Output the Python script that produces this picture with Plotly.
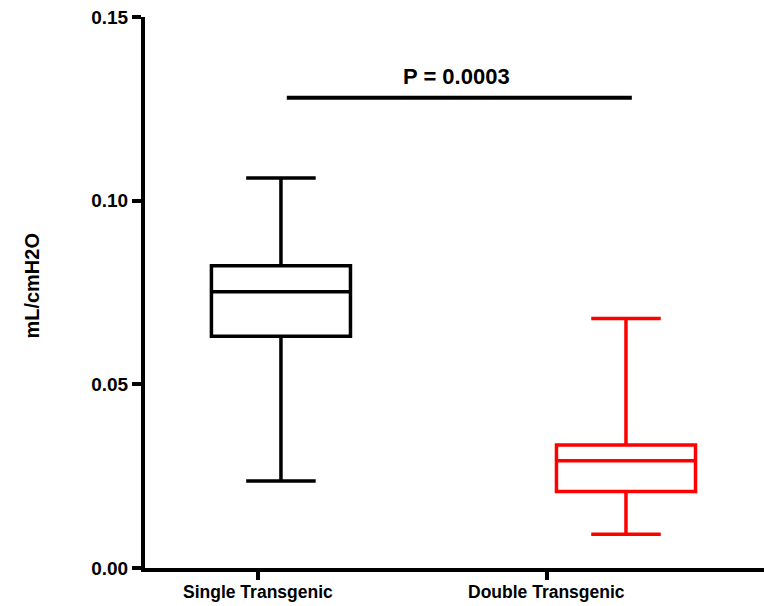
import plotly.graph_objects as go

# ---- data ----
groups = ["Single Transgenic", "Double Transgenic"]
colors = ["#000000", "#FF0000"]
box_pos = [1, 2]
lower_fence = [0.0237, 0.0092]
q1 = [0.0631, 0.0208]
median = [0.0752, 0.0292]
q3 = [0.0823, 0.0335]
upper_fence = [0.1062, 0.0679]
label_pos = [0.934, 1.771]
y_ticks = [0.00, 0.05, 0.10, 0.15]
y_tick_text = ["0.00", "0.05", "0.10", "0.15"]
p_text = "P = 0.0003"
p_bar_y = 0.128
p_bar_x = [1.017, 2.017]

FONT = "Liberation Sans, Arial, sans-serif"

fig = go.Figure()
for i, g in enumerate(groups):
    fig.add_trace(go.Box(
        x=[box_pos[i]], q1=[q1[i]], median=[median[i]], q3=[q3[i]],
        lowerfence=[lower_fence[i]], upperfence=[upper_fence[i]],
        name=g, width=0.403, whiskerwidth=0.5, boxpoints=False,
        line=dict(color=colors[i], width=3.5),
        fillcolor="rgba(0,0,0,0)", hoverinfo="skip", showlegend=False,
    ))

fig.add_trace(go.Scatter(
    x=p_bar_x, y=[p_bar_y, p_bar_y], mode="lines",
    line=dict(color="black", width=4), showlegend=False, hoverinfo="skip",
))
fig.add_annotation(
    x=sum(p_bar_x) / 2 - 0.008, y=p_bar_y + 0.0058, text="<b>" + p_text + "</b>",
    showarrow=False, xanchor="center", yanchor="middle",
    font=dict(family=FONT, size=22, color="black"),
)
fig.add_annotation(
    x=-0.183, y=0.512, xref="paper", yref="paper", text="<b>mL/cmH2O</b>",
    textangle=-90, showarrow=False, xanchor="center", yanchor="middle",
    font=dict(family=FONT, size=20, color="black"),
)
# category labels
for i, g in enumerate(groups):
    fig.add_annotation(
        x=label_pos[i], y=-0.0436, xref="x", yref="paper", text="<b>" + g + "</b>",
        showarrow=False, xanchor="center", yanchor="middle",
        font=dict(family=FONT, size=17.5, color="black"),
    )

fig.update_layout(
    width=764, height=606,
    margin=dict(l=145, r=0, t=17, b=38),
    paper_bgcolor="white", plot_bgcolor="white",
    font=dict(family=FONT, color="black"),
    xaxis=dict(
        range=[0.606, 2.4], tickmode="array", tickvals=label_pos,
        showticklabels=False,
        ticks="outside", ticklen=8, tickwidth=4, tickcolor="black",
        showline=True, linewidth=4, linecolor="black",
        showgrid=False, zeroline=False,
    ),
    yaxis=dict(
        range=[0, 0.15], tickmode="array", tickvals=y_ticks,
        ticktext=["<b>" + t + "</b>" for t in y_tick_text],
        ticks="outside", ticklen=9, tickwidth=4, tickcolor="black",
        showline=True, linewidth=4, linecolor="black",
        showgrid=False, zeroline=False,
        tickfont=dict(family=FONT, size=19, color="black"),
    ),
)

fig.write_html("out.html")
